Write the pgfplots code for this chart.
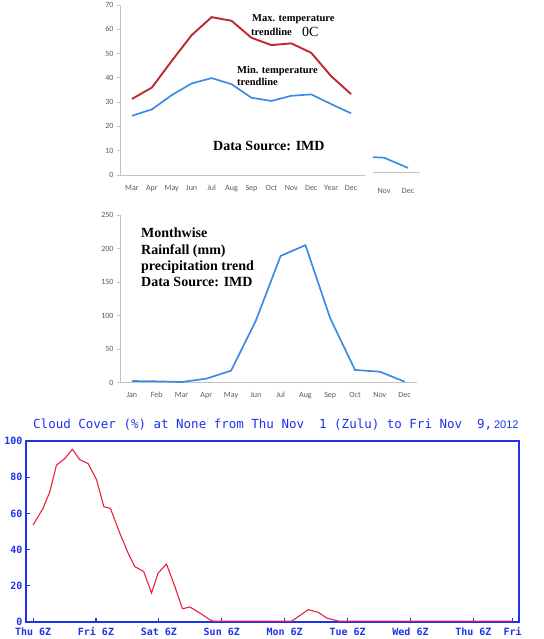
\documentclass[border=0pt]{standalone}
\usepackage{fontspec}
\setmainfont{Liberation Serif}
\newfontfamily\carl{Carlito}
\newfontfamily\gmono{DejaVu Sans Mono}
\newfontfamily\lsans{Liberation Sans}
\usepackage{pgfplots}
\pgfplotsset{compat=1.18}
\definecolor{tred}{RGB}{192,40,48}
\definecolor{tblue}{RGB}{60,140,225}
\definecolor{axgray}{RGB}{195,195,195}
\definecolor{lblgray}{RGB}{90,90,90}
\definecolor{gblue}{RGB}{30,50,235}
\definecolor{gred}{RGB}{235,30,60}
\pgfplotsset{
  officestyle/.style={
    scale only axis, anchor=south west,
    axis x line=bottom, axis y line=left,
    axis line style={axgray,-, line width=0.8pt},
    tick style={axgray, line width=0.8pt}, tick align=outside, major tick length=3pt,
    xtick style={draw=none},
    tick label style={font=\carl\fontsize{8}{9}\selectfont, text=lblgray},
    xticklabel style={yshift=-3pt, text height=5.5pt, text depth=1.5pt},
    /pgf/number format/assume math mode=true,
  }
}
\begin{document}
\begin{tikzpicture}[x=1pt,y=1pt]
\path[use as bounding box] (0,0) rectangle (543,639);
% ---------- top: temperature ----------
\begin{axis}[officestyle, at={(120pt,464pt)}, width=245pt, height=170pt,
  xmin=-0.6, xmax=11.7, ymin=0, ymax=70,
  xtick={0,...,11}, xticklabels={Mar,Apr,May,Jun,Jul,Aug,Sep,Oct,Nov,Dec,Year,Dec},
  ytick={0,10,...,70}]
\addplot[tred, line width=1.9pt] coordinates {
(0,31.3) (1,36) (2,47) (3,57.6) (4,65) (5,63.5) (6,56.5) (7,53.5) (8,54.2) (9,50.3) (10,40.7) (11,33.3)};
\addplot[tblue, line width=1.7pt] coordinates {
(0,24.4) (1,27) (2,32.9) (3,37.7) (4,39.9) (5,37.4) (6,31.8) (7,30.5) (8,32.6) (9,33.2) (10,29.2) (11,25.4)};
\end{axis}
% fragment
\begin{axis}[officestyle, at={(373pt,466.7pt)}, width=47pt, height=19.5pt,
  axis y line=none, xmin=-0.46, xmax=1.5, ymin=0, ymax=8,
  xtick={0,1}, xticklabels={Nov,Dec}, xticklabel style={yshift=-6pt}, clip=false]
\addplot[tblue, line width=1.7pt] coordinates {(-0.46,6.2) (0,6) (1,1.8)};
\end{axis}
\node[anchor=west, font=\bfseries\fontsize{10.5}{11}\selectfont, inner sep=0] at (252,620) {Max. temperature};
\node[anchor=west, font=\bfseries\fontsize{10.5}{11}\selectfont, inner sep=0] at (251,607) {trendline};
\node[anchor=west, font=\fontsize{14}{14}\selectfont, inner sep=0] at (302,607) {0C};
\node[anchor=west, font=\bfseries\fontsize{10.5}{11}\selectfont, inner sep=0] at (237,568) {Min. temperature};
\node[anchor=west, font=\bfseries\fontsize{10.5}{11}\selectfont, inner sep=0] at (237,557) {trendline};
\node[anchor=west, font=\bfseries\fontsize{14}{14}\selectfont, inner sep=0] at (213,493) {Data Source: IMD};
% ---------- middle: rainfall ----------
\begin{axis}[officestyle, at={(120pt,256.3pt)}, width=297pt, height=167.7pt,
  xmin=-0.48, xmax=11.5, ymin=0, ymax=250,
  xtick={0,...,11}, xticklabels={Jan,Feb,Mar,Apr,May,Jun,Jul,Aug,Sep,Oct,Nov,Dec},
  ytick={0,50,...,250}]
\addplot[tblue, line width=1.7pt] coordinates {
(0,2.5) (1,2) (2,1) (3,6) (4,17.9) (5,92.5) (6,189) (7,205) (8,96) (9,19) (10,16.4) (11,1.5)};
\end{axis}
\node[anchor=west, align=left, font=\bfseries\fontsize{14}{16.3}\selectfont, inner sep=0] at (141,381.5) {Monthwise\\Rainfall (mm)\\precipitation trend\\Data Source: IMD};
% ---------- bottom: cloud cover ----------
\begin{axis}[scale only axis, anchor=south west, at={(26pt,17pt)}, width=493pt, height=181pt,
  xmin=-2.7, xmax=185.4, ymin=0, ymax=100,
  axis line style={gblue, line width=1.1pt},
  xtick={0,24,48,72,96,120,144,168,183},
  xticklabels={Thu 6Z,Fri 6Z,Sat 6Z,Sun 6Z,Mon 6Z,Tue 6Z,Wed 6Z,Thu 6Z,Fri},
  ytick={0,20,...,100},
  tick align=inside, tick style={gblue, line width=1.1pt}, major tick length=4pt,
  xtick pos=bottom, ytick pos=left,
  tick label style={font=\gmono\bfseries\fontsize{10}{10}\selectfont, text=gblue},
  xticklabel style={yshift=-2.5pt, text height=7.5pt, text depth=0pt},
  /pgf/number format/assume math mode=true]
\addplot[gred, line width=1.1pt] coordinates {
(0,53.6) (3.8,62.8) (6.4,72) (8.9,86.6) (12.1,90.3) (15,95.4) (17.8,89.7) (21,87.5)
(24.2,78.7) (27,63.7) (29.5,62.8) (33.1,49) (36.3,38) (38.8,30.6) (42.2,27.9) (45.2,16)
(47.7,27) (50.9,32) (54.1,19.6) (57,7.3) (59.8,8.3) (63.6,5) (67.4,1.3) (68.7,0.5)
(80,0.5) (98.7,0.5) (105,6.8) (108.9,5.3) (112,2.2) (116.5,0.5) (140,0.5) (183,0.5)};
\end{axis}
\node[anchor=west, inner sep=0, text=gblue] at (33,214) {\gmono\fontsize{12.5}{13}\selectfont Cloud Cover (\%) at None from Thu Nov~~1 (Zulu) to Fri Nov~~9,\lsans\fontsize{11}{12}\selectfont\,2012};
\end{tikzpicture}
\end{document}
